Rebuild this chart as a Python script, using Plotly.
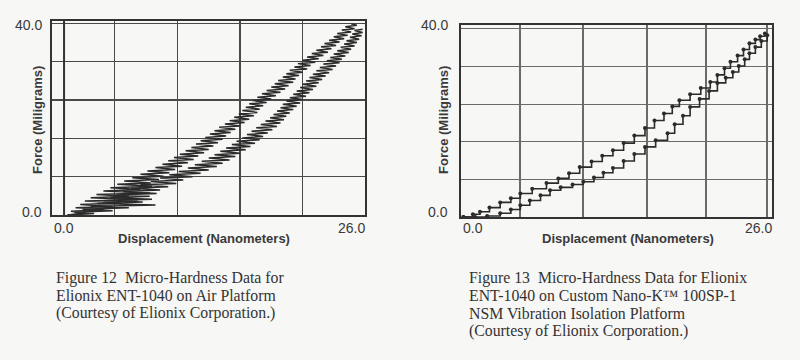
import plotly.graph_objects as go

# ---------------- data: Figure 12 (air platform), noisy load/unload traces ----------------
air_load_x = [0.3, 1.9, 0.6, 3.4, 1.0, 4.2, 1.4, 5.0, 1.8, 6.4, 2.3, 5.6, 2.8, 7.4, 3.4, 6.6, 4.0, 7.6, 4.6, 7.5,
              5.2, 8.2, 5.9, 8.6, 6.6, 9.1, 7.2, 9.6, 7.9, 10.2, 8.5, 10.7, 9.0, 11.2, 9.5, 11.6, 10.0, 12.1, 10.5, 12.5,
              11.0, 12.9, 11.4, 13.3, 11.8, 13.7, 12.2, 14.0, 12.6, 14.4, 13.0, 14.8, 13.4, 15.2, 13.9, 15.6, 14.3, 16.0,
              14.7, 16.4, 15.1, 16.7, 15.4, 16.9, 15.7, 17.2, 16.0, 17.5, 16.3, 17.9, 16.7, 18.3, 17.1, 18.7, 17.5, 19.1,
              17.9, 19.4, 18.2, 19.8, 18.5, 20.0, 18.9, 20.3, 19.2, 20.6, 19.5, 21.0, 19.9, 21.3, 20.2, 21.7, 20.6, 22.0,
              21.0, 22.4, 21.4, 22.8, 21.8, 23.1, 22.2, 23.5, 22.5, 23.8, 22.9, 24.2, 23.3, 24.5, 23.6, 24.8, 24.0, 25.1,
              24.3, 25.3, 24.8]
air_load_y = [0.0, 0.4, 0.8, 1.1, 1.5, 1.8, 2.2, 2.5, 2.9, 3.2, 3.6, 3.9, 4.3, 4.6, 5.0, 5.3, 5.7, 6.0, 6.4, 6.7,
              7.1, 7.4, 7.8, 8.1, 8.5, 8.8, 9.2, 9.5, 9.9, 10.2, 10.6, 10.9, 11.3, 11.6, 12.0, 12.3, 12.7, 13.0, 13.4, 13.7,
              14.1, 14.4, 14.8, 15.1, 15.5, 15.8, 16.2, 16.5, 16.9, 17.2, 17.6, 17.9, 18.3, 18.6, 19.0, 19.3, 19.7, 20.0,
              20.4, 20.7, 21.1, 21.4, 21.8, 22.1, 22.5, 22.8, 23.2, 23.5, 23.9, 24.2, 24.6, 24.9, 25.3, 25.6, 26.0, 26.3,
              26.7, 27.0, 27.4, 27.7, 28.1, 28.4, 28.8, 29.1, 29.5, 29.8, 30.2, 30.5, 30.9, 31.2, 31.6, 31.9, 32.3, 32.6,
              33.0, 33.3, 33.7, 34.0, 34.4, 34.7, 35.1, 35.4, 35.8, 36.1, 36.5, 36.8, 37.2, 37.5, 37.9, 38.2, 38.6, 38.9,
              39.3, 39.6, 39.9]

air_unload_x = [0.3, 2.6, 0.9, 4.2, 1.6, 5.6, 2.3, 7.9, 2.9, 6.8, 3.4, 7.6, 4.0, 7.4, 4.5, 8.0, 5.1, 8.3, 5.8, 9.0,
                6.6, 9.7, 7.5, 10.3, 8.3, 11.1, 9.1, 11.8, 9.9, 12.5, 10.7, 13.2, 11.3, 13.7, 11.9, 14.3, 12.5, 14.8, 13.0, 15.2,
                13.5, 15.7, 14.0, 16.1, 14.5, 16.5, 14.9, 16.9, 15.4, 17.2, 15.8, 17.6, 16.2, 18.0, 16.6, 18.4, 17.0, 18.7,
                17.4, 19.0, 17.8, 19.2, 18.1, 19.5, 18.4, 19.8, 18.7, 20.1, 18.9, 20.4, 19.2, 20.6, 19.5, 20.9, 19.8, 21.2,
                20.1, 21.5, 20.4, 21.8, 20.6, 22.0, 20.9, 22.3, 21.2, 22.6, 21.5, 22.9, 21.8, 23.2, 22.1, 23.5, 22.4, 23.8,
                22.7, 24.0, 23.0, 24.3, 23.3, 24.6, 23.6, 24.8, 23.9, 25.1, 24.2, 25.3, 24.4, 25.5, 24.7, 25.7, 24.9, 25.8,
                25.1, 25.8]
air_unload_y = [0.0, 0.3, 0.6, 0.9, 1.2, 1.5, 1.8, 2.1, 2.4, 2.7, 3.0, 3.3, 3.6, 3.9, 4.2, 4.5, 4.9, 5.2, 5.6, 5.9,
                6.3, 6.6, 7.0, 7.3, 7.7, 8.0, 8.4, 8.7, 9.1, 9.4, 9.8, 10.1, 10.5, 10.8, 11.2, 11.5, 11.9, 12.2, 12.6, 12.9,
                13.3, 13.6, 14.0, 14.3, 14.7, 15.0, 15.4, 15.7, 16.1, 16.4, 16.8, 17.1, 17.5, 17.8, 18.2, 18.5, 18.9, 19.2,
                19.6, 19.9, 20.3, 20.6, 21.0, 21.3, 21.7, 22.0, 22.4, 22.7, 23.1, 23.4, 23.8, 24.1, 24.5, 24.8, 25.2, 25.5,
                25.9, 26.2, 26.6, 26.9, 27.3, 27.6, 28.0, 28.3, 28.7, 29.0, 29.4, 29.7, 30.1, 30.4, 30.8, 31.1, 31.5, 31.8,
                32.2, 32.5, 32.9, 33.2, 33.6, 33.9, 34.3, 34.6, 35.0, 35.3, 35.7, 36.0, 36.4, 36.7, 37.1, 37.4, 37.8, 38.1,
                38.5, 38.8]

# ---------------- data: Figure 13 (Nano-K platform), stepped load/unload traces ----------------
nsm_load_x = [0.2, 1.0, 1.6, 2.4, 3.3, 4.2, 5.0, 6.0, 7.2, 8.2, 9.1, 10.0, 11.0, 11.9, 12.8, 13.7, 14.6, 15.5,
              16.3, 17.1, 17.8, 18.4, 19.3, 20.2, 21.0, 21.6, 22.2, 22.7, 23.3, 23.8, 24.3, 24.8, 25.2, 25.6]
nsm_load_y = [0.0, 0.6, 1.1, 2.0, 3.1, 4.0, 5.0, 6.0, 7.2, 8.2, 9.3, 10.6, 11.8, 13.0, 14.2, 15.7, 17.3, 18.9,
              20.5, 22.0, 23.5, 24.8, 26.1, 27.4, 28.7, 30.2, 31.6, 33.0, 34.3, 35.6, 36.9, 37.7, 38.4, 39.0]
nsm_unload_x = [0.2, 1.2, 2.2, 3.3, 4.2, 5.0, 5.8, 6.7, 7.5, 8.4, 9.4, 10.3, 11.2, 12.0, 12.8, 13.7, 14.6, 15.5,
                16.4, 17.4, 18.0, 18.7, 19.3, 20.1, 20.9, 21.6, 22.3, 22.9, 23.4, 23.9, 24.3, 24.8, 25.3, 25.8]
nsm_unload_y = [0.0, 0.0, 0.2, 0.8, 1.6, 2.5, 3.5, 4.6, 5.7, 6.3, 6.9, 7.5, 8.4, 9.4, 10.4, 11.9, 13.4, 14.9,
                16.3, 17.8, 19.7, 21.5, 23.4, 25.1, 26.8, 28.5, 29.6, 30.8, 32.1, 33.5, 34.8, 36.1, 37.4, 38.6]

# ---------------- text ----------------
x_tick_labels = ["0.0", "26.0"]
y_tick_labels = ["0.0", "40.0"]
x_title = "Displacement (Nanometers)"
y_title = "Force (Miligrams)"
caption_left = ["Figure 12  Micro-Hardness Data for",
                "Elionix ENT-1040 on Air Platform",
                "(Courtesy of Elionix Corporation.)"]
caption_right = ["Figure 13  Micro-Hardness Data for Elionix",
                 "ENT-1040 on Custom Nano-K\u2122 100SP-1",
                 "NSM Vibration Isolation Platform",
                 "(Courtesy of Elionix Corporation.)"]

# ---------------- layout helpers ----------------
W, H = 800, 360
BG = "#f7f7f5"
INK = "#2b2b2b"
def px(x):
    return x / W
def py(y):
    return 1 - y / H

LEFT = dict(x0=52, x1=365, y0=21, y1=215)
RIGHT = dict(x0=461, x1=772, y0=25, y1=217)

fig = go.Figure()

fig.add_trace(go.Scatter(x=air_load_x, y=air_load_y, mode="lines",
                         line=dict(color=INK, width=1.5), xaxis="x", yaxis="y", showlegend=False))
fig.add_trace(go.Scatter(x=air_unload_x, y=air_unload_y, mode="lines",
                         line=dict(color=INK, width=1.5), xaxis="x", yaxis="y", showlegend=False))
fig.add_trace(go.Scatter(x=nsm_load_x, y=nsm_load_y, mode="lines+markers",
                         line=dict(color=INK, width=1.6, shape="hv"),
                         marker=dict(symbol="circle", size=4, color=INK),
                         xaxis="x2", yaxis="y2", showlegend=False))
fig.add_trace(go.Scatter(x=nsm_unload_x, y=nsm_unload_y, mode="lines+markers",
                         line=dict(color=INK, width=1.6, shape="hv"),
                         marker=dict(symbol="circle", size=4, color=INK),
                         xaxis="x2", yaxis="y2", showlegend=False))

frame = dict(showline=True, mirror=True, linecolor="#333", linewidth=2,
             ticks="", showticklabels=False, zeroline=False, fixedrange=True)

fig.update_layout(
    width=W, height=H, margin=dict(l=0, r=0, t=0, b=0),
    paper_bgcolor=BG, plot_bgcolor=BG, hovermode=False,
    xaxis=dict(domain=[px(LEFT["x0"]), px(LEFT["x1"])], range=[-1.04, 26.0],
               tickvals=[4.37, 9.78, 15.18, 20.59], showgrid=True, gridcolor="#4a4a4a", gridwidth=1.5,
               anchor="y", **frame),
    yaxis=dict(domain=[py(LEFT["y1"]), py(LEFT["y0"])], range=[0, 40.5],
               tickvals=[8, 16, 24, 32, 40], showgrid=True, gridcolor="#4a4a4a", gridwidth=1.5,
               anchor="x", **frame),
    xaxis2=dict(domain=[px(RIGHT["x0"]), px(RIGHT["x1"])], range=[0, 26.2],
                tickvals=[4.97, 10.28, 15.67, 20.64, 25.78], showgrid=True, gridcolor="#6a6a6a", gridwidth=1.1,
                anchor="y2", **frame),
    yaxis2=dict(domain=[py(RIGHT["y1"]), py(RIGHT["y0"])], range=[0, 40.8],
                tickvals=[8, 16, 24, 32, 40], showgrid=True, gridcolor="#6a6a6a", gridwidth=1.1,
                anchor="x2", **frame),
)

# zero-displacement line on the left chart
fig.add_shape(type="line", xref="x", yref="y domain", x0=0, x1=0, y0=0, y1=1,
              line=dict(color="#333", width=2))

tick_font = dict(family="Liberation Sans, Arial, sans-serif", size=14, color="#3a3a3a")
title_font = dict(family="Liberation Sans, Arial, sans-serif", size=13, color="#3a3a3a")
cap_font = dict(family="Liberation Serif, Times New Roman, serif", size=15.8, color="#333")

def ann(text, x, y, xa="center", ya="middle", font=None, angle=0):
    fig.add_annotation(text=text, x=px(x), y=py(y), xref="paper", yref="paper",
                       xanchor=xa, yanchor=ya, showarrow=False, font=font, textangle=angle)

for P, ylab_x, xt_x in ((LEFT, 44, 204), (RIGHT, 450, 628)):
    ann(x_tick_labels[0], P["x0"], 228, xa="left", font=tick_font)
    ann(x_tick_labels[1], P["x1"] + 2, 228, xa="right", font=tick_font)
    ann(y_tick_labels[1], ylab_x, 25, xa="right", font=tick_font)
    ann(y_tick_labels[0], ylab_x, 212, xa="right", font=tick_font)
    ann("<b>" + x_title + "</b>", xt_x, 238, font=title_font)

ann("<b>" + y_title + "</b>", 38, 120, font=title_font, angle=-90)
ann("<b>" + y_title + "</b>", 444, 120, font=title_font, angle=-90)

line_ys = [278, 295.5, 313, 330.5]
for i, t in enumerate(caption_left):
    ann(t, 54, line_ys[i], xa="left", font=cap_font)
for i, t in enumerate(caption_right):
    ann(t, 467, line_ys[i], xa="left", font=cap_font)

fig.write_html("out.html", config={"displayModeBar": False, "staticPlot": True},
               post_script="document.body.style.margin='0';document.body.style.background='%s';" % BG)
